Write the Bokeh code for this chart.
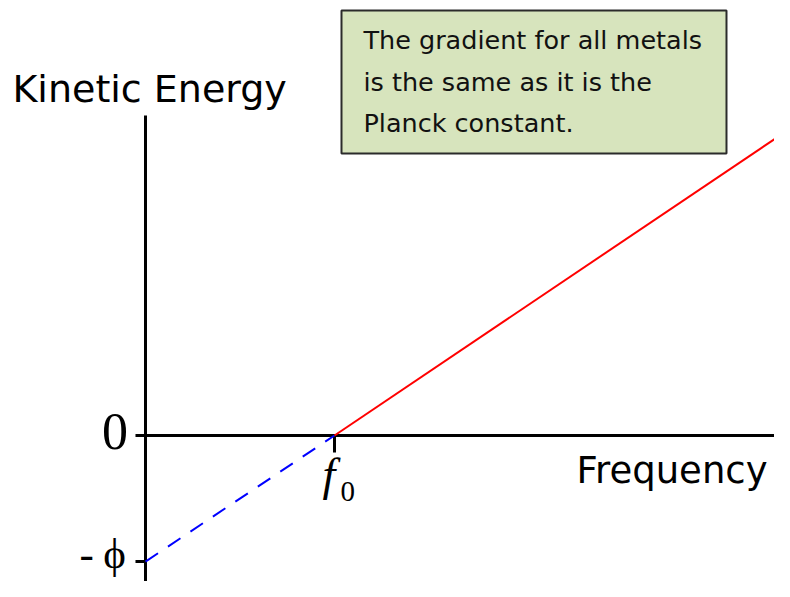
from bokeh.plotting import figure
from bokeh.core.properties import value
from bokeh.embed import file_html
from bokeh.resources import INLINE

# ---- data ----
f0 = 1.0            # threshold frequency
phi = 0.667         # work function (intercept)
red_x = [1.0, 3.39]     # measured kinetic energy line
red_y = [0.0, 1.61]
blue_x = [0.0, 1.0]     # extrapolated part
blue_y = [-0.667, 0.0]
tick_labels = ["0", "f", "0", "-", "\u03d5"]
axis_titles = ["Kinetic Energy", "Frequency"]
note_lines = ["The gradient for all metals", "is the same as it is the", "Planck constant."]

p = figure(width=774, height=581, x_range=(-0.7672, 3.3280), y_range=(-0.7725, 2.3016),
           x_axis_type=None, y_axis_type=None, toolbar_location=None,
           output_backend="svg", min_border=0)
p.grid.visible = False
p.outline_line_color = None
p.background_fill_color = "white"

# axes lines
p.segment(x0=[-0.053], y0=[0.0], x1=[3.40], y1=[0.0], line_color="black", line_width=3)
p.segment(x0=[0.0], y0=[-0.9], x1=[0.0], y1=[1.693], line_color="black", line_width=3)
# ticks
p.segment(x0=[f0], y0=[0.0], x1=[f0], y1=[-0.09], line_color="black", line_width=3)
p.segment(x0=[-0.053], y0=[-phi], x1=[0.0], y1=[-phi], line_color="black", line_width=3)

# lines
p.line(blue_x, blue_y, line_color="#0000FF", line_width=2, line_dash="15 12")
p.line(red_x, red_y, line_color="#FF0000", line_width=2)

# note box
p.quad(left=[1.037], right=[3.074], top=[2.249], bottom=[1.492],
       fill_color="#D7E4BD", line_color="#2b2b2b", line_width=2)
p.text(x=[1.153] * 3, y=[2.090, 1.873, 1.651], text=note_lines,
       text_font=value("DejaVu Sans"), text_font_size="25.5px", text_color="#111111",
       text_baseline="alphabetic")

# axis titles
p.text(x=[-0.704], y=[1.835], text=[axis_titles[0]], text_font=value("DejaVu Sans"),
       text_font_size="38px", text_color="black", text_baseline="alphabetic")
p.text(x=[2.280], y=[-0.183], text=[axis_titles[1]], text_font=value("DejaVu Sans"),
       text_font_size="37px", text_color="black", text_baseline="alphabetic")

# tick labels
p.text(x=[-0.161], y=[0.022], text=[tick_labels[0]], text_font=value("Liberation Serif"),
       text_font_size="52px", text_color="black", text_align="center",
       text_baseline="alphabetic")
p.text(x=[0.937], y=[-0.207], text=[tick_labels[1]], text_font=value("Liberation Serif"),
       text_font_style="italic", text_font_size="46px", text_color="black",
       text_baseline="alphabetic")
p.text(x=[1.032], y=[-0.294], text=[tick_labels[2]], text_font=value("Liberation Serif"),
       text_font_size="29px", text_color="black", text_baseline="alphabetic")
p.text(x=[-0.349], y=[-0.625], text=[tick_labels[3]], text_font=value("Liberation Serif"),
       text_font_size="43px", text_color="black", text_baseline="alphabetic")
p.text(x=[-0.164], y=[-0.625], text=[tick_labels[4]], text_font=value("Liberation Serif"),
       text_font_size="43px", text_color="black", text_align="center",
       text_baseline="alphabetic")

open("out.html", "w").write(file_html(p, INLINE))
